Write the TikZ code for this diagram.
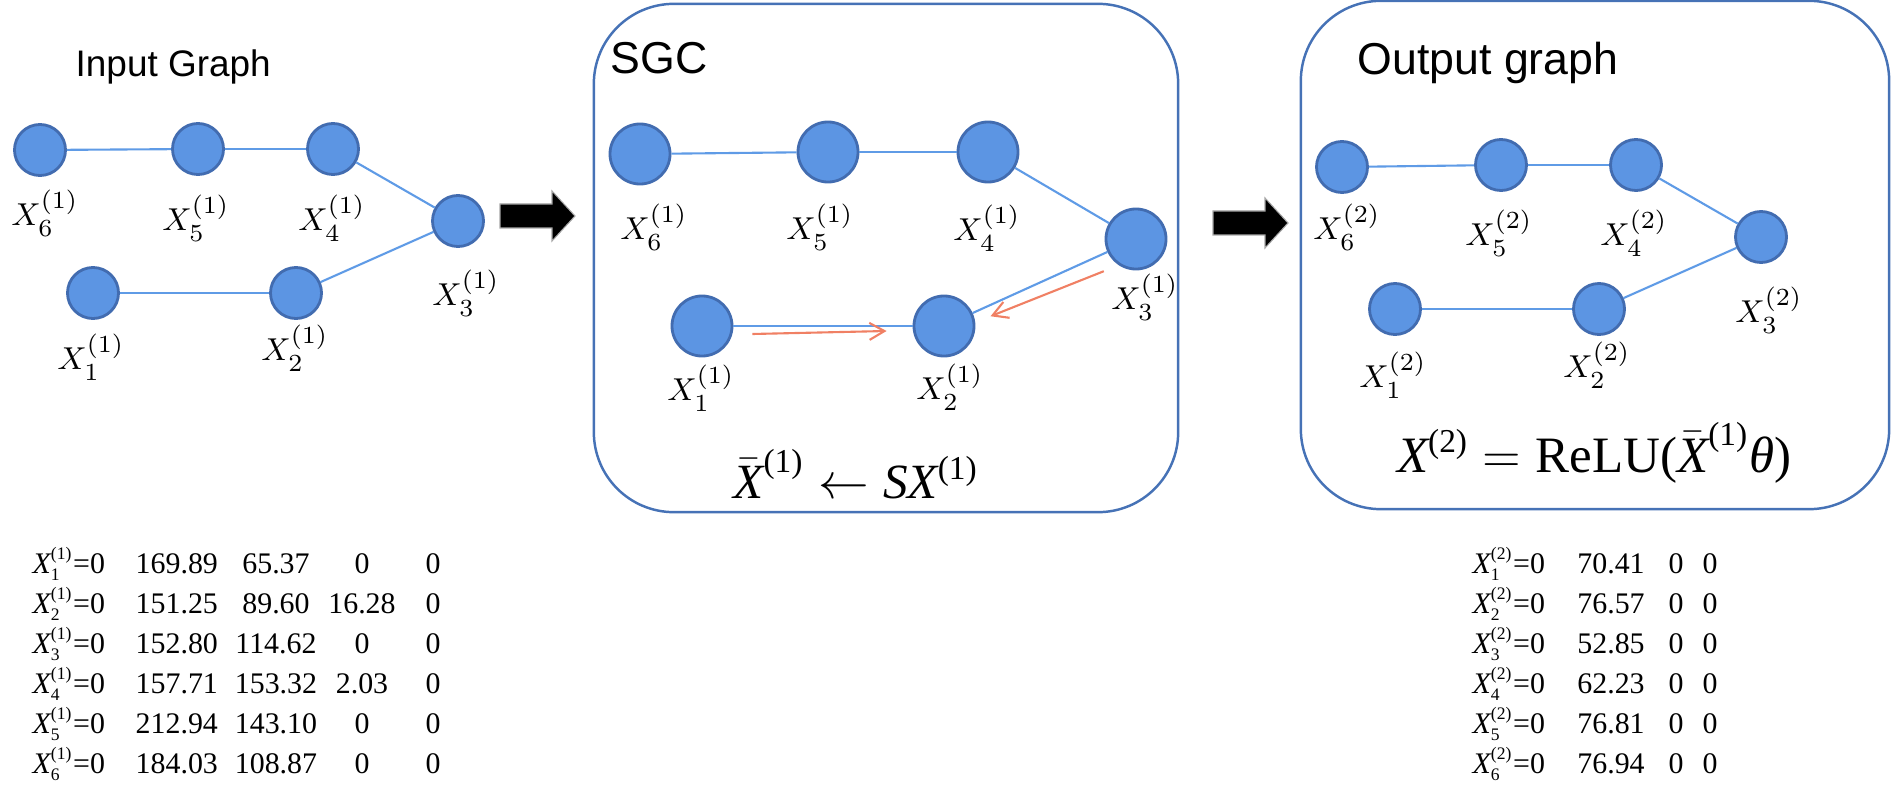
\documentclass[tikz,border=0pt]{standalone}
\usepackage{fontspec}
\usepackage{tikz}
\usetikzlibrary{arrows.meta}
\newfontfamily\arial{Liberation Sans}
\newfontfamily\tnr{Liberation Serif}
\definecolor{nodeblue}{RGB}{92,149,227}
\definecolor{nodeedge}{RGB}{66,108,176}
\definecolor{edgeblue}{RGB}{95,155,230}
\definecolor{boxblue}{RGB}{70,114,182}
\definecolor{msgred}{RGB}{240,128,100}
% Times pieces for formulas and tables
\newcommand{\tX}{\hbox{\tnr\itshape X}}
\newcommand{\tsm}[1]{\hbox{\tnr\fontsize{5}{5}\selectfont #1}}
\newcommand{\tmd}[1]{\hbox{\tnr\fontsize{9.5}{10}\selectfont #1}}
\tikzset{
  vtx/.style={circle, fill=nodeblue, draw=nodeedge, line width=0.8pt, inner sep=0pt},
  edge/.style={draw=edgeblue, line width=0.6pt},
  lbl/.style={inner sep=0pt, font=\fontsize{9.5}{11}\selectfont},
  panel/.style={draw=boxblue, line width=0.7pt, rounded corners=0.8cm, inner sep=0pt},
  msg/.style={draw=msgred, line width=0.6pt, -{Straight Barb[length=1.5mm, width=1.7mm]}},
  ttl/.style={inner sep=0pt, anchor=base west},
  cell/.style={inner sep=0pt, font=\tnr\fontsize{8.5}{10}\selectfont},
}

\begin{document}
\begin{tikzpicture}[x=0.01cm, y=-0.01cm]
        \useasboundingbox (0,0) rectangle (1891,785);
        % the two framed panels
        \node[panel, minimum width=5.84cm, minimum height=5.08cm] (sgc) at (886,258) {};
        \node[panel, minimum width=5.88cm, minimum height=5.08cm] (out) at (1595,255) {};
        % titles
        \node[ttl, font=\arial\fontsize{10.5}{12}\selectfont] (ttlin) at (75,77) {Input Graph};
        \node[ttl, font=\arial\fontsize{12.7}{14}\selectfont] (ttlsgc) at (610,74) {SGC};
        \node[ttl, font=\arial\fontsize{12.7}{14}\selectfont] (ttlout) at (1357,75) {Output graph};
        % input graph
        \foreach \n/\x/\y/\lx/\ly in {1/93/293/91/357, 2/296/293/295/348, 3/458/221/466/293,
                                      4/333/149/332/218, 5/198/149/196/218, 6/40/150/45/213}{
          \node[vtx, minimum size=5.1mm] (i\n) at (\x,\y) {};
          \node[lbl] (il\n) at (\lx,\ly) {$X_{\n}^{(1)}$};
        }
        % graph inside SGC
        \foreach \n/\x/\y/\lx/\ly in {1/702/326/701/388, 2/944/326/950/387, 3/1136/239/1145/297,
                                      4/988/152/987/228, 5/828/152/820/227, 6/640/154/654/227}{
          \node[vtx, minimum size=6mm] (s\n) at (\x,\y) {};
          \node[lbl] (sl\n) at (\lx,\ly) {$X_{\n}^{(1)}$};
        }
        % output graph
        \foreach \n/\x/\y/\lx/\ly in {1/1395/309/1393/375, 2/1599/309/1597/365, 3/1761/237/1769/310,
                                      4/1636/165/1634/233, 5/1501/165/1499/233, 6/1342/167/1347/227}{
          \node[vtx, minimum size=5.1mm] (o\n) at (\x,\y) {};
          \node[lbl] (ol\n) at (\lx,\ly) {$X_{\n}^{(2)}$};
        }
        \foreach \g in {i,s,o}
          \foreach \a/\b in {6/5,5/4,4/3,3/2,2/1}
            \draw[edge] (\g\a) -- (\g\b);
        % messages passed to X2
        \draw[msg] ([shift={(19,8)}]s1.east) -- ([shift={(-26,5)}]s2.west);
        \draw[msg] ([shift={(-10,10)}]s3.225) -- ([shift={(17,1)}]s2.20);
        % block arrows between the stages
        \foreach \x/\y in {500/216, 1213/223}
          \fill[draw=gray!70, line width=0.3pt] (\x,\y-12) -- (\x+52,\y-12) -- (\x+52,\y-25) -- (\x+75,\y)
                -- (\x+52,\y+25) -- (\x+52,\y+12) -- (\x,\y+12) -- cycle;
        % formulas
        \node[inner sep=0pt, anchor=base, font=\fontsize{14}{16}\selectfont] (eqsgc) at (856,498)
          {$\bar{\tX}^{\tmd{(1)}}\leftarrow\hbox{\tnr\itshape S}\tX^{\tmd{(1)}}$};
        \node[inner sep=0pt, anchor=base, font=\fontsize{14.5}{16}\selectfont] (eqout) at (1594,472)
          {$\tX^{\tmd{(2)}}=\hbox{\tnr ReLU(}\bar{\tX}^{\tmd{(1)}}\hbox{\tnr\itshape θ}\hbox{\tnr )}$};
        % feature tables
        \foreach \r/\a/\b/\c in {1/169.89/65.37/0, 2/151.25/89.60/16.28, 3/152.80/114.62/0,
                                 4/157.71/153.32/2.03, 5/212.94/143.10/0, 6/184.03/108.87/0}{
          \node[cell, anchor=base west] (inx\r) at (32,{573+40*(\r-1)}) {$\tX^{\tsm{(1)}}_{\tsm{\r}}$=0};
          \node[cell, anchor=base west] (ina\r) at (135,{573+40*(\r-1)}) {\a};
          \node[cell, anchor=base] (inb\r) at (276,{573+40*(\r-1)}) {\b};
          \node[cell, anchor=base] (inc\r) at (362,{573+40*(\r-1)}) {\c};
          \node[cell, anchor=base] (ind\r) at (433,{573+40*(\r-1)}) {0};
        }
        \foreach \r/\a in {1/70.41, 2/76.57, 3/52.85, 4/62.23, 5/76.81, 6/76.94}{
          \node[cell, anchor=base west] (outx\r) at (1472,{573+40*(\r-1)}) {$\tX^{\tsm{(2)}}_{\tsm{\r}}$=0};
          \node[cell, anchor=base] (outa\r) at (1611,{573+40*(\r-1)}) {\a};
          \node[cell, anchor=base] (outb\r) at (1676,{573+40*(\r-1)}) {0};
          \node[cell, anchor=base] (outc\r) at (1710,{573+40*(\r-1)}) {0};
        }
    \end{tikzpicture}
\end{document}
